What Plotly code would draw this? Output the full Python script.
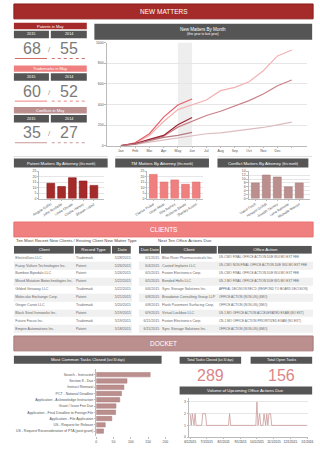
import plotly.graph_objects as go

W, H = 320, 450
def X(px): return px / W
def Y(py): return 1 - py / H

FONT = "Liberation Sans, Arial, sans-serif"
DARK = "#555555"
RED = "#a52a2a"
CORAL = "#f08080"
ROSY = "#bc8f8f"

# ---------------- data ----------------
kpi_titles = ["Patents in May", "Trademarks in May", "Conflicts in May"]
kpi_years = ["2015", "2014"]
kpi_2015 = [68, 60, 35]
kpi_2014 = [55, 52, 27]

months = ["Jan", "Feb", "Mar", "Apr", "May", "Jun", "Jul", "Aug", "Sep", "Oct", "Nov", "Dec", " "]
line_a_2015 = [0, 29, 116, 277, 395, 453]
line_a_2014 = [0, 25, 100, 235, 350, 395, 444, 534, 566, 621, 727, 871, 929]
line_b_2015 = [0, 20, 62, 100, 203, 273]
line_b_2014 = [0, 15, 55, 92, 180, 238, 293, 334, 383, 437, 502, 582, 637]
line_c_2015 = [0, 15, 50, 80, 100, 130]
line_c_2014 = [0, 12, 35, 55, 72, 95, 116, 125, 141, 164, 177, 203, 228]

patent_attorneys = ["Angela Griffin", "John Rochelle", "Linda Choate", "Cindie Harvey", "Shawn Lopez"]
patent_counts = [14, 11, 19, 16, 12]
tm_attorneys = ["Clarice Pickel", "Dean Aksle", "Rita Barnes", "Roberta Steele", "Stanley Austin"]
tm_counts = [22, 15, 17, 13, 15]
conflict_attorneys = ["David Finch", "Howard Griffith", "Joseph Tierney", "Lena Barnette", "Michelle Warren"]
conflict_counts = [8, 12, 11, 6, 8]

client_headers = ["Client", "Record Type", "Date"]
client_names = ["ElectroDuru LLC", "Fuzzy Vulture Technologies Inc.", "Bamboo Bipedals LLC",
                "Mixed Mutation Biotechnologies Inc.", "Gilded Getaway LLC", "Molecular Exchange Corp.",
                "Ginger Carrot LLC", "Black Steel Ironworks Inc.", "Future Focus Inc.", "Empire Automations Inc."]
client_types = ["Trademark", "Patent", "Patent", "Patent", "Trademark", "Patent",
                "Trademark", "Patent", "Trademark", "Patent"]
client_dates = ["5/28/2015", "5/26/2015", "5/26/2015", "5/22/2015", "5/22/2015", "5/21/2015",
                "5/20/2015", "5/19/2015", "5/19/2015", "5/18/2015"]

oa_headers = ["Due Date", "Client", "Office Action"]
oa_due = ["6/1/2015", "6/4/2015", "6/5/2015", "6/5/2015", "6/6/2015", "6/8/2015",
          "6/8/2015", "6/9/2015", "6/11/2015", "6/11/2015"]
oa_clients = ["Blue River Pharmaceuticals Inc.", "Casted Implants LLC", "Fusion Electronics Corp.",
              "Bonded Hells LLC", "Sync Storage Solutions Inc.", "Broadwise Consulting Group LLP",
              "Flash Pavement Surfacing Corp.", "Virtual Lockbox LLC", "Fusion Electronics Corp.",
              "Sync Storage Solutions Inc."]
oa_actions = ["US-CWO FINAL OFFICE ACTION DUE W/4 MO EXT FEE",
              "US-CWO NON-FINAL OFFICE ACTION DUE W/4 MO EXT FEE",
              "US-CWO FINAL OFFICE ACTION DUE W/4 MO EXT FEE",
              "US-1 MO FINAL OFFICE ACTION DUE W/5 MO EXT FEE",
              "APPEAL DECISION REC'D (RESPOND TO BOARD DECISION)",
              "OFFICE ACTION (NON-US) (4MO)",
              "OFFICE ACTION (NON-US) (3MO)",
              "US-1 MO OFFICE ACTION ACCELERATED EXAM (NO EXT)",
              "CN-1 MO OFFICE ACTION PRIORITIZED EXAM (NO EXT)",
              "OFFICE ACTION (NON-US) (6MO)"]

tasks = ["Search - Instructed", "Section 8 - Due", "Instruct Renewal", "PCT - National Deadline",
         "Application - Acknowledge Instruction", "Grant / Issue Fee Due",
         "Application - Final Deadline to Foreign File", "Application - File Application",
         "US - Request for Release", "US - Request Reconsideration of PTA (post grant)"]
task_counts = [156, 89, 80, 73, 68, 57, 56, 45, 26, 21]

total_closed = 289
total_open = 156

vol_dates = ["2015-06-01", "2015-06-03", "2015-06-05", "2015-06-08", "2015-06-10", "2015-06-12",
             "2015-06-22", "2015-06-24", "2015-06-29", "2015-07-01", "2015-08-10", "2015-08-12",
             "2015-08-14", "2015-09-29", "2015-10-01", "2015-10-03", "2015-10-06", "2015-10-08",
             "2015-10-12", "2015-10-14", "2015-10-17", "2015-10-19", "2015-10-21", "2015-10-23",
             "2015-10-26", "2015-10-28", "2015-12-31"]
vol_values = [2, 1, 2, 1, 2, 1,
              1, 2, 2, 1, 1, 2,
              1, 1, 3, 1, 2, 1,
              1, 2, 1, 2, 1, 2,
              2, 1, 1]
vol_ticks = ["2015-06-01", "2015-07-01", "2015-08-01", "2015-09-01", "2015-10-01",
             "2015-11-01", "2015-12-01", "2016-01-01"]
vol_tick_labels = ["6/1/2015", "7/1/2015", "8/1/2015", "9/1/2015", "10/1/2015",
                   "11/1/2015", "12/1/2015", "1/1/2016"]

# ---------------- figure ----------------
fig = go.Figure()
shapes = []
annos = []

def rect(x0, y0, x1, y1, fill, line=None, lw=0):
    shapes.append(dict(type="rect", xref="paper", yref="paper", x0=X(x0), x1=X(x1), y0=Y(y1), y1=Y(y0),
                       fillcolor=fill, line=dict(color=line or fill, width=lw), layer="below"))

def hline(x0, x1, y, color, width=1, dash="solid"):
    shapes.append(dict(type="line", xref="paper", yref="paper", x0=X(x0), x1=X(x1), y0=Y(y), y1=Y(y),
                       line=dict(color=color, width=width, dash=dash)))

def text(x, y, s, size, color="white", xanchor="center"):
    annos.append(dict(xref="paper", yref="paper", x=X(x), y=Y(y), text=s, showarrow=False,
                      xanchor=xanchor, yanchor="middle", font=dict(size=size, color=color, family=FONT)))

def header(x0, y0, x1, y1, s, fill=DARK, size=4.3):
    rect(x0, y0, x1, y1, fill)
    text((x0 + x1) / 2, (y0 + y1) / 2, s, size)

# banners
for (y0, y1, col, edge, label) in [(2, 17, RED, "#8b1c1c", "NEW MATTERS"),
                                   (222, 237, CORAL, "#e87070", "CLIENTS"),
                                   (337, 352, ROSY, "#a87878", "DOCKET")]:
    rect(2, y0, 318, y1, col, edge, 1)
    text(160, (y0 + y1) / 2, label, 6.5)

# KPI blocks
kpi_cols = [RED, CORAL, ROSY]
kpi_line_cols = ["#d36a6a", "#f08080", "#c99a9a"]
head_y = [21, 64, 106]
for i in range(3):
    hy = head_y[i]
    header(2, hy, 79, hy + 6.5, kpi_titles[i], fill=kpi_cols[i], size=4)
    header(2, hy + 8, 39, hy + 15.5, kpi_years[0], size=3.8)
    header(41, hy + 8, 79, hy + 15.5, kpi_years[1], size=3.8)
    text(21, hy + 26, str(kpi_2015[i]), 16, "#7a7a7a")
    text(40, hy + 27, "/", 8, "#999999")
    text(60, hy + 26, str(kpi_2014[i]), 16, "#7a7a7a")
    hline(3, 37, hy + 36, kpi_line_cols[i], 1)
    hline(42, 79, hy + 36, kpi_line_cols[i], 1, "dot")

# panel top lines
for (a, b) in [(2, 101), (109, 208), (217, 317)]:
    hline(a, b, 156, "#dddddd", 1)

# line chart
header(87, 22, 317, 38, "", size=4.5)
text(202, 27.5, "New Matters By Month", 4.5)
text(202, 32.5, "(this year to last year)", 3.3)
shapes.append(dict(type="rect", xref="x", yref="paper", x0=4, x1=5, y0=Y(145), y1=Y(41),
                   fillcolor="#eeeeee", line=dict(width=0), layer="below"))
line_specs = [
    (line_a_2014, "#f5b0b2"), (line_b_2014, "#c98088"), (line_c_2014, "#dcbcbf"),
    (line_a_2015, "#e8606a"), (line_b_2015, "#9e2230"), (line_c_2015, "#b87b84"),
]
for vals, col in line_specs:
    fig.add_trace(go.Scatter(x=months[:len(vals)], y=vals, mode="lines",
                             line=dict(color=col, width=1.2), xaxis="x", yaxis="y"))

# attorney bars
header(2, 158, 101, 167, "Patent Matters By Attorney <span style='font-size:3px'>(this month)</span>")
header(109, 158, 208, 167, "TM Matters By Attorney <span style='font-size:3px'>(this month)</span>")
header(217, 158, 313, 167, "Conflict Matters By Attorney <span style='font-size:3px'>(this month)</span>")
fig.add_trace(go.Bar(x=patent_attorneys, y=patent_counts, marker=dict(color=RED, line=dict(color="#8b1a1a", width=0.6)),
                     width=0.72, xaxis="x2", yaxis="y2"))
fig.add_trace(go.Bar(x=tm_attorneys, y=tm_counts, marker=dict(color=CORAL, line=dict(color="#e06a6a", width=0.6)),
                     width=0.72, xaxis="x3", yaxis="y3"))
fig.add_trace(go.Bar(x=conflict_attorneys, y=conflict_counts, marker=dict(color=ROSY, line=dict(color="#a87a7a", width=0.6)),
                     width=0.72, xaxis="x4", yaxis="y4"))

# client tables (drawn as heatmap cells + text on their own axes)
text(2, 241, "Ten Most Recent New Clients / Existing Client New Matter Type", 4.3, "#444444", "left")
text(183, 241, "Next Ten Office Actions Due", 4.3, "#444444")

shade_scale = [[0, "#ffffff"], [0.5, "#ffffff"], [0.5, "#f0f0f0"], [1, "#f0f0f0"]]

def draw_table(xa, ya, col_edges, headers, columns, aligns, sizes):
    n = len(columns[0])
    ncol = len(columns)
    fig.add_trace(go.Heatmap(z=[[1] * ncol], x=col_edges, y=[0, 1], xgap=1.2, ygap=0,
                             colorscale=[[0, DARK], [1, DARK]], showscale=False,
                             xaxis=xa, yaxis=ya, hoverinfo="skip"))
    fig.add_trace(go.Heatmap(z=[[r % 2] * ncol for r in range(n)], x=col_edges,
                             y=list(range(1, n + 2)), colorscale=shade_scale, zmin=0, zmax=1,
                             showscale=False, xaxis=xa, yaxis=ya, hoverinfo="skip"))
    rows_y = [r + 1.5 for r in range(n)]
    for c in range(ncol):
        left, right = col_edges[c], col_edges[c + 1]
        fig.add_trace(go.Scatter(x=[(left + right) / 2], y=[0.5], mode="text", text=[headers[c]],
                                 textposition="middle center",
                                 textfont=dict(size=4.3, color="white", family=FONT),
                                 xaxis=xa, yaxis=ya, cliponaxis=False))
        if aligns[c] == "left":
            xs, pos = left + 1.5, "middle right"
        else:
            xs, pos = right - 1.5, "middle left"
        fig.add_trace(go.Scatter(x=[xs] * n, y=rows_y, mode="text", text=columns[c],
                                 textposition=pos,
                                 textfont=dict(size=sizes[c], color="#666666", family=FONT),
                                 xaxis=xa, yaxis=ya, cliponaxis=False))

left_edges = [0, 64, 104, 125]
right_edges = [0, 23, 83, 184]
draw_table("x7", "y7", left_edges, client_headers, [client_names, client_types, client_dates],
           ["left", "left", "right"], [3.6, 3.6, 3.6])
draw_table("x8", "y8", right_edges, oa_headers, [oa_due, oa_clients, oa_actions],
           ["right", "left", "left"], [3.6, 3.6, 3.1])

# docket
header(2, 357, 158, 365, "Most Common Tasks Closed <span style='font-size:3px'>(last 30 days)</span>")
header(177, 358, 242, 365, "Total Tasks Closed <span style='font-size:2.6px'>(last 30 days)</span>", size=3.6)
header(252, 358, 317, 365, "Total Open Tasks", size=3.8)
text(209.5, 376.5, str(total_closed), 16, "#d9868a")
text(284.5, 376.5, str(total_open), 16, "#d9868a")
header(177, 388, 317, 396, "Volume of Upcoming Office Actions Due", size=4.3)
fig.add_trace(go.Bar(x=task_counts, y=tasks, orientation="h", width=0.7,
                     marker=dict(color=ROSY, line=dict(color="#a87a7a", width=0.5)),
                     xaxis="x5", yaxis="y5"))
fig.add_trace(go.Scatter(x=vol_dates, y=vol_values, mode="lines", line=dict(color="#cc9a9c", width=0.8),
                         xaxis="x6", yaxis="y6"))

# ---------------- axes ----------------
tickfont = dict(size=3.5, color="#555555", family=FONT)
base_x = dict(showgrid=False, showline=True, linecolor="#bbbbbb", linewidth=0.6, ticks="outside",
              ticklen=1.5, tickcolor="#bbbbbb", tickfont=tickfont, zeroline=False, fixedrange=True)
base_y = dict(showgrid=True, gridcolor="#e6e6e6", gridwidth=0.6, showline=True, linecolor="#bbbbbb",
              linewidth=0.6, ticks="outside", ticklen=1.5, tickcolor="#bbbbbb", tickfont=tickfont,
              zeroline=False, fixedrange=True)
hidden = dict(visible=False, fixedrange=True)

layout_axes = dict(
    xaxis=dict(base_x, domain=[X(100), X(312)], type="category", categoryorder="array",
               categoryarray=months, range=[-1, 13.1], tickangle=0, anchor="y"),
    yaxis=dict(base_y, domain=[Y(145), Y(41)], range=[0, 1000], dtick=200, anchor="x"),
    xaxis2=dict(base_x, domain=[X(29), X(97)], range=[-1.05, 4.92], tickangle=-32, anchor="y2"),
    yaxis2=dict(base_y, domain=[Y(198.3), Y(170.7)], range=[0, 25], dtick=5, anchor="x2"),
    xaxis3=dict(base_x, domain=[X(143), X(202)], range=[-0.55, 4.66], tickangle=-32, anchor="y3"),
    yaxis3=dict(base_y, domain=[Y(198.3), Y(170.7)], range=[0, 25], dtick=5, anchor="x3"),
    xaxis4=dict(base_x, domain=[X(250), X(315)], range=[-0.6, 5.0], tickangle=-32, anchor="y4"),
    yaxis4=dict(base_y, domain=[Y(198.3), Y(170.7)], range=[0, 14], dtick=2, anchor="x4"),
    xaxis5=dict(base_x, domain=[X(89), X(162)], range=[0, 200], dtick=50, showline=False, anchor="y5"),
    yaxis5=dict(base_y, domain=[Y(438), Y(370)], showgrid=False, range=[9.8, -0.95],
                type="category", categoryorder="array", categoryarray=tasks, anchor="x5"),
    xaxis6=dict(base_x, domain=[X(187), X(313)], type="date", range=["2015-05-30", "2016-01-03"],
                tickmode="array", tickvals=vol_ticks, ticktext=vol_tick_labels, tickangle=0,
                ticklabeloverflow="allow",
                tickfont=dict(size=3.1, color="#333333", family=FONT), anchor="y6"),
    yaxis6=dict(base_y, domain=[Y(439), Y(400)], range=[0, 3.3], dtick=1, anchor="x6"),
    xaxis7=dict(hidden, domain=[X(2), X(127)], range=[0, 125], anchor="y7"),
    yaxis7=dict(hidden, domain=[Y(334), Y(246)], range=[11, 0], anchor="x7"),
    xaxis8=dict(hidden, domain=[X(134), X(318)], range=[0, 184], anchor="y8"),
    yaxis8=dict(hidden, domain=[Y(334), Y(246)], range=[11, 0], anchor="x8"),
)

fig.update_layout(
    width=W, height=H, margin=dict(l=0, r=0, t=0, b=0),
    paper_bgcolor="white", plot_bgcolor="white",
    showlegend=False, hovermode=False,
    font=dict(family=FONT, size=4, color="#555555"),
    shapes=shapes, annotations=annos, bargap=0.3,
    **layout_axes,
)

fig.write_html("out.html", config={"displayModeBar": False})
